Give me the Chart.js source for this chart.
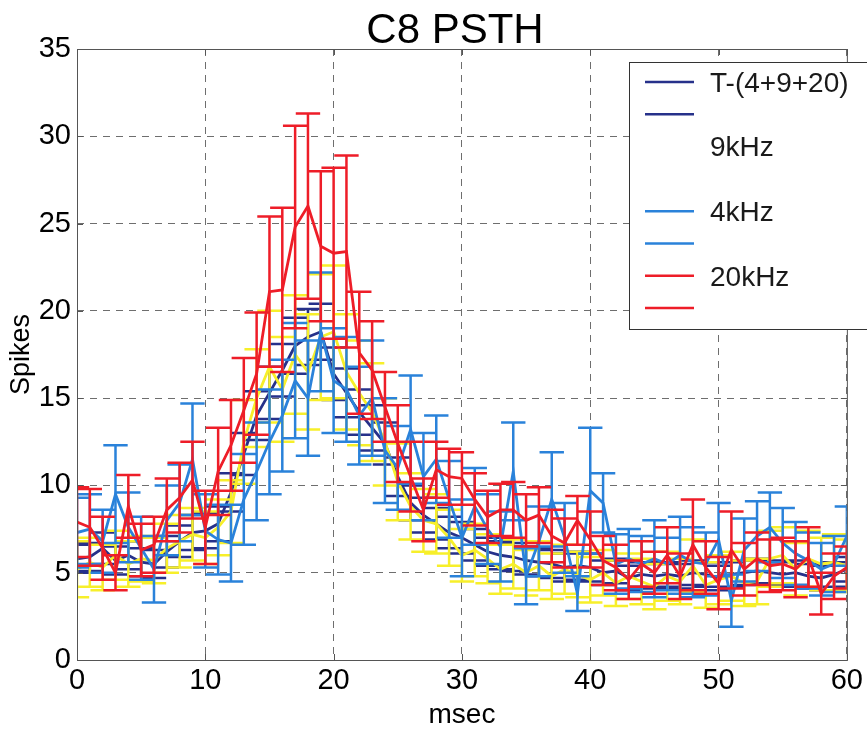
<!DOCTYPE html>
<html>
<head>
<meta charset="utf-8">
<script src="https://cdn.jsdelivr.net/npm/chart.js@4.4.0/dist/chart.umd.min.js"></script>
<style>
  html, body { margin: 0; padding: 0; background: #fff; }
  #wrap { width: 867px; height: 729px; }
</style>
</head>
<body>
<div id="wrap"><canvas id="psthChart" width="867" height="729"></canvas></div>
<script>
// time bins (msec)
const msec = [0,1,2,3,4,5,6,7,8,9,10,11,12,13,14,15,16,17,18,19,20,
  21,22,23,24,25,26,27,28,29,30,31,32,33,34,35,36,37,38,39,40,
  41,42,43,44,45,46,47,48,49,50,51,52,53,54,55,56,57,58,59,60];

// T-(4+9+20)
const totalMean = [5.8,5.9,6.4,5.7,6.0,5.6,5.5,6.2,6.8,7.3,7.4,
  7.8,9.6,11.8,14.0,15.3,16.6,18.0,18.5,18.8,16.4,
  15.3,14.2,13.3,12.4,10.5,9.0,8.3,7.8,7.3,7.0,
  6.6,6.2,6.0,5.9,5.7,5.6,5.5,5.3,5.4,5.3,
  5.0,5.1,4.7,4.9,4.8,4.9,4.8,5.0,4.9,4.7,
  4.9,5.0,5.1,5.0,4.9,5.0,4.8,4.7,4.9,5.2];
const totalErr = [0.8,0.8,0.9,0.8,0.8,0.8,0.8,0.9,0.9,1.0,1.0,
  1.0,1.1,1.2,1.4,1.5,1.5,1.6,1.6,1.6,1.5,
  1.4,1.3,1.3,1.2,1.1,1.0,1.0,0.9,0.9,0.9,
  0.9,0.8,0.8,0.8,0.8,0.8,0.8,0.8,0.8,0.8,
  0.7,0.7,0.7,0.7,0.7,0.7,0.7,0.7,0.7,0.7,
  0.7,0.7,0.7,0.7,0.7,0.7,0.7,0.7,0.7,0.7];

// 9kHz
const k9Mean = [5.2,5.6,5.3,6.0,5.5,5.8,5.7,6.4,6.8,7.2,7.0,
  7.6,8.5,12.5,15.0,16.8,15.5,17.5,16.5,18.5,18.8,
  16.5,15.3,14.2,12.5,10.2,8.8,8.0,7.8,7.0,6.0,
  6.3,5.8,5.2,5.5,5.0,5.4,4.8,5.2,4.9,4.6,
  5.0,4.4,4.8,4.5,4.2,4.8,4.5,5.4,4.3,4.6,
  4.8,4.4,4.5,5.8,6.0,5.2,5.8,5.5,5.6,5.4];
const k9Err = [1.6,1.4,1.3,1.4,1.3,1.3,1.3,1.4,1.5,1.5,1.5,
  1.6,1.8,2.4,2.8,3.2,3.0,3.4,3.3,3.6,3.8,
  3.3,3.0,2.8,2.5,2.2,1.9,1.8,1.7,1.6,1.5,
  1.5,1.4,1.4,1.4,1.3,1.4,1.3,1.4,1.3,1.3,
  1.3,1.3,1.3,1.3,1.3,1.4,1.3,1.5,1.3,1.4,
  1.4,1.3,1.3,1.6,1.6,1.5,1.6,1.5,1.6,1.5];

// 4kHz
const k4Mean = [7.3,7.5,6.8,9.5,7.6,6.4,5.2,8.0,9.0,11.5,7.4,
  6.9,6.7,9.2,10.8,12.5,14.0,16.0,15.0,18.8,16.0,
  15.5,14.0,15.0,12.0,11.0,13.2,10.5,11.5,9.2,7.0,
  8.8,7.5,6.5,10.8,4.8,6.8,9.2,7.0,3.8,9.7,
  9.0,5.5,5.8,5.5,5.8,5.5,6.0,5.6,5.5,6.9,
  3.4,6.3,7.1,7.6,6.7,6.1,5.7,5.2,5.5,7.1];
const k4Err = [2.0,2.0,1.8,2.8,2.0,1.8,1.9,2.0,2.2,3.2,2.1,
  2.0,2.2,2.6,2.8,3.0,3.2,3.3,3.3,3.4,3.0,
  3.0,2.8,3.3,3.0,2.4,3.1,2.5,2.5,2.2,2.2,
  2.2,2.0,2.0,2.8,1.6,2.0,2.7,2.0,1.0,3.6,
  1.7,1.7,1.7,1.6,2.2,1.5,2.2,2.0,1.8,2.1,
  1.5,1.8,2.0,2.0,2.0,1.8,1.6,1.5,1.6,1.7];

// 20kHz
const k20Mean = [7.9,7.6,6.4,5.0,8.8,6.3,6.6,8.6,9.3,10.3,7.6,
  10.8,12.3,14.3,16.4,21.1,21.2,24.8,26.0,23.7,23.3,
  23.4,17.6,16.6,14.5,12.4,10.5,8.6,10.9,10.5,10.4,
  9.2,8.2,8.6,8.6,8.0,8.3,7.1,6.7,8.0,6.9,
  5.7,5.3,4.6,5.5,5.0,6.0,4.8,6.6,5.3,4.4,
  6.3,5.2,5.8,5.4,5.5,5.2,5.9,3.8,4.8,5.3];
const k20Err = [2.0,2.2,1.8,1.0,1.8,1.5,1.6,1.8,2.0,2.2,2.1,
  2.5,2.6,3.0,3.5,4.3,4.7,5.8,5.3,4.3,4.9,
  5.5,3.5,2.8,2.0,2.2,2.0,1.8,1.6,1.6,1.5,
  1.5,1.5,1.5,1.6,1.5,1.6,1.5,1.4,1.4,1.6,
  1.4,1.3,1.1,1.3,1.2,1.6,1.3,2.6,1.5,1.5,
  2.2,1.5,1.5,1.5,1.5,1.6,1.7,1.2,1.3,1.2];

const xTicks = [0, 10, 20, 30, 40, 50, 60];
const yTicks = [0, 5, 10, 15, 20, 25, 30, 35];
const legendLabels = ["T-(4+9+20)", "", "9kHz", "", "4kHz", "", "20kHz", ""];

const NAVY = "#26318a";
const YELLOW = "#f7ef2a";
const BLUE = "#2a82da";
const RED = "#ee1d28";
const FONT = "'Liberation Sans', Arial, Helvetica, sans-serif";
const CAP_HALF = 0.95; // half width of error bar caps, in msec

function toPoints(means) {
  return msec.map((t, i) => ({ x: t, y: means[i] }));
}

// error bars drawn just below their own line
const errorBarPlugin = {
  id: "errorBars",
  beforeDatasetDraw(chart, args) {
    const ds = chart.data.datasets[args.index];
    if (!ds.errors) return;
    const xs = chart.scales.x, ys = chart.scales.y, area = chart.chartArea;
    const ctx = chart.ctx;
    ctx.save();
    ctx.beginPath();
    ctx.rect(area.left, area.top, area.right - area.left, area.bottom - area.top);
    ctx.clip();
    ctx.strokeStyle = ds.borderColor;
    ctx.lineWidth = 2.5;
    ctx.beginPath();
    ds.data.forEach((p, i) => {
      const e = ds.errors[i];
      const x = xs.getPixelForValue(p.x);
      const yTop = ys.getPixelForValue(p.y + e);
      const yBot = ys.getPixelForValue(p.y - e);
      const xl = xs.getPixelForValue(p.x - CAP_HALF);
      const xr = xs.getPixelForValue(p.x + CAP_HALF);
      ctx.moveTo(x, yTop); ctx.lineTo(x, yBot);
      ctx.moveTo(xl, yTop); ctx.lineTo(xr, yTop);
      ctx.moveTo(xl, yBot); ctx.lineTo(xr, yBot);
    });
    ctx.stroke();
    ctx.restore();
  }
};

// axes box, inward ticks, title and the legend box
const decorPlugin = {
  id: "decor",
  afterDraw(chart) {
    const ctx = chart.ctx, a = chart.chartArea;
    const xs = chart.scales.x, ys = chart.scales.y;
    ctx.save();
    ctx.strokeStyle = "#555";
    ctx.lineWidth = 1;
    ctx.strokeRect(a.left + 0.5, a.top + 0.5, a.right - a.left, a.bottom - a.top);
    ctx.beginPath();
    xTicks.forEach(v => {
      const x = Math.round(xs.getPixelForValue(v)) + 0.5;
      ctx.moveTo(x, a.bottom); ctx.lineTo(x, a.bottom - 6);
      ctx.moveTo(x, a.top); ctx.lineTo(x, a.top + 6);
    });
    yTicks.forEach(v => {
      const y = Math.round(ys.getPixelForValue(v)) + 0.5;
      ctx.moveTo(a.left, y); ctx.lineTo(a.left + 6, y);
      ctx.moveTo(a.right, y); ctx.lineTo(a.right - 6, y);
    });
    ctx.stroke();

    // title
    ctx.fillStyle = "#000";
    ctx.font = "42px " + FONT;
    ctx.textAlign = "center";
    ctx.textBaseline = "alphabetic";
    ctx.fillText("C8 PSTH", 455, 43);

    // legend
    ctx.fillStyle = "#fff";
    ctx.fillRect(629, 62, 260, 267);
    ctx.strokeStyle = "#333";
    ctx.strokeRect(629.5, 62.5, 260, 267);
    const swatch = [NAVY, NAVY, null, null, BLUE, BLUE, RED, RED];
    ctx.font = "28px " + FONT;
    ctx.textAlign = "left";
    ctx.textBaseline = "middle";
    legendLabels.forEach((lab, i) => {
      const y = 82 + i * 32.3;
      if (swatch[i]) {
        ctx.strokeStyle = swatch[i];
        ctx.lineWidth = 2.5;
        ctx.beginPath();
        ctx.moveTo(645, y); ctx.lineTo(694, y);
        ctx.stroke();
      }
      if (lab) {
        ctx.fillStyle = "#1a1a1a";
        ctx.fillText(lab, 710, y + 2);
      }
    });
    ctx.restore();
  }
};

function makeSeries(label, means, errs, color, order) {
  return {
    label: label,
    data: toPoints(means),
    errors: errs,
    borderColor: color,
    backgroundColor: color,
    borderWidth: 2.8,
    pointRadius: 0,
    tension: 0,
    fill: false,
    order: order
  };
}

const ctx = document.getElementById("psthChart").getContext("2d");
const gridColor = "#6e6e6e";

new Chart(ctx, {
  type: "line",
  data: {
    datasets: [
      makeSeries("T-(4+9+20)", totalMean, totalErr, NAVY, 3),
      makeSeries("9kHz", k9Mean, k9Err, YELLOW, 2),
      makeSeries("4kHz", k4Mean, k4Err, BLUE, 1),
      makeSeries("20kHz", k20Mean, k20Err, RED, 0)
    ]
  },
  options: {
    responsive: false,
    animation: false,
    devicePixelRatio: 1,
    layout: { padding: { left: 0, right: 17, top: 49, bottom: 0 } },
    plugins: {
      legend: { display: false },
      title: { display: false },
      tooltip: { enabled: false }
    },
    scales: {
      x: {
        type: "linear",
        min: 0,
        max: 60,
        afterBuildTicks: s => { s.ticks = xTicks.map(v => ({ value: v })); },
        afterFit: s => { s.height = 69; },
        grid: { color: gridColor, lineWidth: 1, drawTicks: false },
        border: { display: false, dash: [7, 6] },
        ticks: { color: "#000", font: { family: FONT, size: 29 }, padding: 4, maxRotation: 0 },
        title: { display: true, text: "msec", color: "#000",
                 font: { family: FONT, size: 28, lineHeight: 1 }, padding: { top: 0, bottom: 0 } }
      },
      y: {
        min: 0,
        max: 35,
        afterBuildTicks: s => { s.ticks = yTicks.map(v => ({ value: v })); },
        afterFit: s => { s.width = 77; },
        grid: { color: gridColor, lineWidth: 1, drawTicks: false },
        border: { display: false, dash: [7, 6] },
        ticks: { color: "#000", font: { family: FONT, size: 29 }, padding: 6 },
        title: { display: true, text: "Spikes", color: "#000",
                 font: { family: FONT, size: 27, lineHeight: 1 }, padding: { top: 8, bottom: 0 } }
      }
    }
  },
  plugins: [errorBarPlugin, decorPlugin]
});
</script>
</body>
</html>
